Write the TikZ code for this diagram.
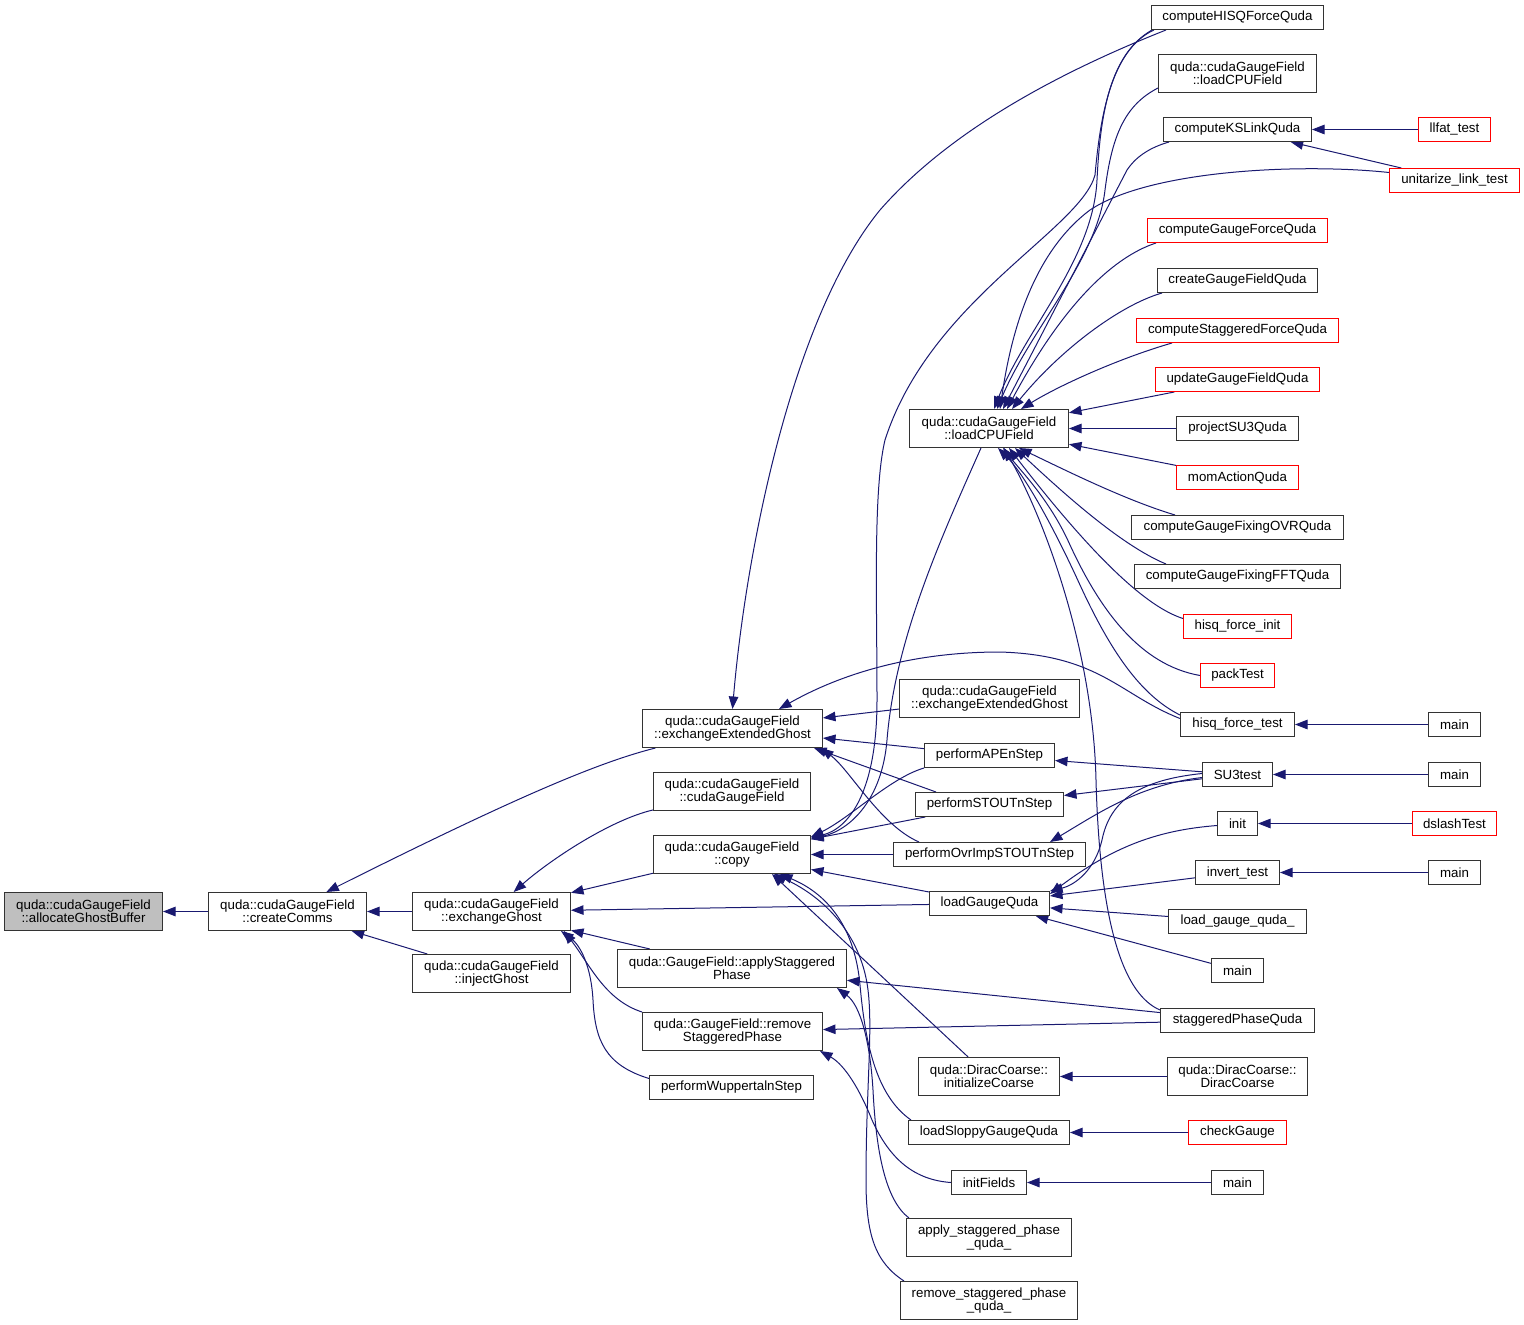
\documentclass[tikz,border=0pt]{standalone}
\usepackage{fontspec}
\setmainfont{Liberation Sans}
\usetikzlibrary{arrows.meta,calc}
\definecolor{mblue}{RGB}{25,25,112}
\definecolor{grayfill}{RGB}{191,191,191}
\pgfdeclarelayer{edges}
\pgfsetlayers{edges,main}
\tikzset{
  box/.style={draw=black!80, line width=1pt, fill=white, inner sep=0pt, minimum height=24pt,
              font=\fontsize{13.3}{13}\selectfont, align=center, text=black},
  tall/.style={minimum height=38pt},
  redbox/.style={box, draw=red},
  conn/.style={draw=mblue, line width=1pt, -{Triangle[length=12.5pt,width=9.5pt]}},
}
\begin{document}
\begin{tikzpicture}[x=1pt,y=-1pt]
\useasboundingbox (0,0) rectangle (1524,1325);
% column 0-2
\node[box,tall,fill=grayfill,minimum width=158pt] (agb) at (83.5,911.5) {quda::cudaGaugeField\\::allocateGhostBuffer};
\node[box,tall,minimum width=158pt] (cc) at (287.5,911.5) {quda::cudaGaugeField\\::createComms};
\node[box,tall,minimum width=158pt] (eg) at (491.5,911.5) {quda::cudaGaugeField\\::exchangeGhost};
\node[box,tall,minimum width=158pt] (ig) at (491.5,973.5) {quda::cudaGaugeField\\::injectGhost};
% column 3
\node[box,tall,minimum width=180pt] (eeA) at (732.5,728.5) {quda::cudaGaugeField\\::exchangeExtendedGhost};
\node[box,tall,minimum width=157pt] (ctor) at (732,791.5) {quda::cudaGaugeField\\::cudaGaugeField};
\node[box,tall,minimum width=157pt] (copy) at (732,854.5) {quda::cudaGaugeField\\::copy};
\node[box,tall,minimum width=229pt] (asp) at (732,968.5) {quda::GaugeField::applyStaggered\\Phase};
\node[box,tall,minimum width=180pt] (rsp) at (732.5,1031.5) {quda::GaugeField::remove\\StaggeredPhase};
\node[box,minimum width=164pt] (wup) at (731.5,1087.5) {performWuppertalnStep};
% column 4
\node[box,tall,minimum width=159pt] (lcf) at (989,428.5) {quda::cudaGaugeField\\::loadCPUField};
\node[box,tall,minimum width=180pt] (eeB) at (989.5,698.5) {quda::cudaGaugeField\\::exchangeExtendedGhost};
\node[box,minimum width=130pt] (ape) at (989.5,755.5) {performAPEnStep};
\node[box,minimum width=148pt] (stout) at (989.5,804.5) {performSTOUTnStep};
\node[box,minimum width=192pt] (ovr) at (989.5,854.5) {performOvrImpSTOUTnStep};
\node[box,minimum width=120pt] (lgq) at (989.5,903.5) {loadGaugeQuda};
\node[box,tall,minimum width=141pt] (ic) at (989,1076.5) {quda::DiracCoarse::\\initializeCoarse};
\node[box,minimum width=161pt] (lsg) at (989,1132.5) {loadSloppyGaugeQuda};
\node[box,minimum width=75pt] (inf) at (989,1182.5) {initFields};
\node[box,tall,minimum width=165pt] (aspq) at (989,1237.5) {apply\_staggered\_phase\\\_quda\_};
\node[box,tall,minimum width=177pt] (rspq) at (989,1300.5) {remove\_staggered\_phase\\\_quda\_};
% column 5
\node[box,minimum width=172pt] (hisq) at (1237.5,17.5) {computeHISQForceQuda};
\node[box,tall,minimum width=158pt] (lcf2) at (1237.5,73.5) {quda::cudaGaugeField\\::loadCPUField};
\node[box,minimum width=148pt] (ksl) at (1237.5,129.5) {computeKSLinkQuda};
\node[redbox,minimum width=180pt] (gfq) at (1237.5,230.5) {computeGaugeForceQuda};
\node[box,minimum width=160pt] (cgf) at (1237.5,280.5) {createGaugeFieldQuda};
\node[redbox,minimum width=202pt] (sfq) at (1237.5,330.5) {computeStaggeredForceQuda};
\node[redbox,minimum width=164pt] (ugf) at (1237.5,379.5) {updateGaugeFieldQuda};
\node[box,minimum width=122pt] (psu) at (1237.5,428.5) {projectSU3Quda};
\node[redbox,minimum width=122pt] (mom) at (1237.5,477.5) {momActionQuda};
\node[box,minimum width=212pt] (ovrq) at (1237.5,527.5) {computeGaugeFixingOVRQuda};
\node[box,minimum width=206pt] (fft) at (1237.5,576.5) {computeGaugeFixingFFTQuda};
\node[redbox,minimum width=108pt] (hfi) at (1237.5,626.5) {hisq\_force\_init};
\node[redbox,minimum width=74pt] (pack) at (1237.5,675.5) {packTest};
\node[box,minimum width=114pt] (hft) at (1237.5,724.5) {hisq\_force\_test};
\node[box,minimum width=70pt] (su3) at (1237.5,774.5) {SU3test};
\node[box,minimum width=40pt] (init) at (1237.5,823.5) {init};
\node[box,minimum width=84pt] (inv) at (1237.5,872.5) {invert\_test};
\node[box,minimum width=138pt] (lgqf) at (1237.5,921.5) {load\_gauge\_quda\_};
\node[box,minimum width=52pt] (main1) at (1237.5,970.5) {main};
\node[box,minimum width=154pt] (spq) at (1237.5,1020.5) {staggeredPhaseQuda};
\node[box,tall,minimum width=140pt] (dc) at (1237.5,1076.5) {quda::DiracCoarse::\\DiracCoarse};
\node[redbox,minimum width=98pt] (chk) at (1237.5,1132.5) {checkGauge};
\node[box,minimum width=52pt] (main2) at (1237.5,1182.5) {main};
% column 6
\node[redbox,minimum width=72pt] (llf) at (1454.5,129.5) {llfat\_test};
\node[redbox,minimum width=130pt] (unit) at (1454.5,180.5) {unitarize\_link\_test};
\node[box,minimum width=52pt] (main3) at (1454.5,724.5) {main};
\node[box,minimum width=52pt] (main4) at (1454.5,774.5) {main};
\node[redbox,minimum width=84pt] (dsl) at (1454.5,823.5) {dslashTest};
\node[box,minimum width=52pt] (main5) at (1454.5,872.5) {main};

\begin{pgfonlayer}{edges}
% left part
\draw[conn] (cc) -- (agb);
\draw[conn] (eg) -- (cc);
\draw[conn] (ig) -- (cc);
\draw[conn] (eeA) .. controls (600,762) and (520,795) .. (cc);
\draw[conn] (ctor) .. controls (610,820) and (550,860) .. (eg);
\draw[conn] (copy) -- (eg);
\draw[conn] (lgq) -- (eg);
\draw[conn] (asp) -- (eg);
\draw[conn] (rsp.north west) .. controls (605,1000) and (590,965) .. ([xshift=-7pt]eg.south east);
\draw[conn] ([yshift=9pt]wup.west) .. controls (605,1065) and (595,1040) .. (593,1000) .. controls (591,965) and (580,945) .. ([xshift=-10pt]eg.south east);
% exchangeExtendedGhost A
\draw[conn] ([xshift=15pt]hisq.south west) .. controls (1060,72) and (950,130) .. (880,210) .. controls (790,320) and (745,560) .. (eeA.north);
\draw[conn] (eeB) -- (eeA);
\draw[conn] (ape) -- (eeA);
\draw[conn] ([xshift=21pt]stout.north west) -- ([xshift=-9pt]eeA.south east);
\draw[conn] ([xshift=26pt]ovr.north west) .. controls (880,825) and (850,770) .. ([xshift=-2pt]eeA.south east);
\draw[conn] ([yshift=6pt]hft.west) .. controls (1120,695) and (1100,655) .. (1000,652) .. controls (900,652) and (830,680) .. ([xshift=-44pt]eeA.north east);
% copy
\draw[conn] ([xshift=3pt]hisq.south west) .. controls (1110,50) and (1100,120) .. (1095,175) .. controls (1080,230) and (930,300) .. (885,440) .. controls (873,490) and (877,600) .. (877,700) .. controls (877,790) and (850,828) .. ([yshift=-3pt]copy.north east);
\draw[conn] ([xshift=-8pt]lcf.south) .. controls (940,540) and (895,640) .. (887,740) .. controls (882,800) and (850,830) .. ([yshift=-4pt]copy.north east);
\draw[conn] (ape.south west) .. controls (890,778) and (850,818) .. ([yshift=-2pt]copy.north east);
\draw[conn] (stout) -- (copy);
\draw[conn] (ovr) -- (copy);
\draw[conn] (lgq) -- (copy);
\draw[conn] (ic) -- ([xshift=40pt]copy.south);
\draw[conn] ([xshift=3pt]lsg.north west) .. controls (875,1095) and (865,1040) .. (860,985) .. controls (855,930) and (830,895) .. ([xshift=48pt]copy.south);
\draw[conn] ([xshift=4pt]rspq.north west) .. controls (875,1262) and (866,1235) .. (866,1180) .. controls (866,1090) and (873,1030) .. (868,990) .. controls (862,940) and (830,900) .. ([xshift=42pt]copy.south);
% staggered phase
\draw[conn] ([xshift=3pt]aspq.north west) .. controls (885,1200) and (876,1150) .. (873,1090) .. controls (870,1040) and (860,1005) .. ([xshift=-10pt]asp.south east);
\draw[conn] (inf.west) .. controls (915,1180) and (890,1160) .. (872,1120) .. controls (860,1090) and (845,1065) .. ([xshift=-3pt]rsp.south east);
\draw[conn] (spq) -- (asp);
\draw[conn] (spq) -- (rsp);
\draw[conn] ([yshift=-2pt]spq.north west) .. controls (1125,995) and (1100,930) .. (1096,780) .. controls (1093,650) and (1045,520) .. ([xshift=15pt]lcf.south);
% loadGaugeQuda
\draw[conn] ([yshift=1pt]su3.west) .. controls (1140,780) and (1110,800) .. (1102,840) .. controls (1095,870) and (1075,885) .. (lgq.north east);
\draw[conn] ([yshift=-2pt]init.west) .. controls (1160,830) and (1115,845) .. ([yshift=-3pt]lgq.north east);
\draw[conn] (inv) -- (lgq);
\draw[conn] (lgqf) -- (lgq);
\draw[conn] (main1) -- (lgq);
% SU3test
\draw[conn] (su3) -- (ape);
\draw[conn] (su3) -- (stout);
\draw[conn] ([yshift=-3pt]su3.west) .. controls (1140,785) and (1100,812) .. ([xshift=-36pt]ovr.north east);
% loadCPUField (col 4)
\draw[conn] ([xshift=1pt]hisq.south west) .. controls (1108,55) and (1100,120) .. (1097,180) .. controls (1093,260) and (1025,330) .. ([xshift=5pt]lcf.north);
\draw[conn] ([yshift=-14.5pt]lcf2.west) .. controls (1125,105) and (1112,135) .. (1105,190) .. controls (1097,260) and (1030,330) .. ([xshift=8pt]lcf.north);
\draw[conn] ([xshift=6pt]ksl.south west) .. controls (1148,148) and (1135,158) .. (1127,170) -- ([xshift=14pt]lcf.north);
\draw[conn] ([yshift=8pt]unit.west) .. controls (1300,163) and (1150,170) .. (1090,210) .. controls (1030,255) and (1010,340) .. ([xshift=11pt]lcf.north);
\draw[conn] ([xshift=9pt]gfq.south west) .. controls (1110,258) and (1060,310) .. ([xshift=18pt]lcf.north);
\draw[conn] ([xshift=5pt]cgf.south west) .. controls (1120,305) and (1060,350) .. ([xshift=23pt]lcf.north);
\draw[conn] ([xshift=36pt]sfq.south west) .. controls (1120,358) and (1060,385) .. ([xshift=32pt]lcf.north);
\draw[conn] (ugf) -- (lcf);
\draw[conn] (psu) -- (lcf);
\draw[conn] (mom) -- (lcf);
\draw[conn] ([xshift=44pt]ovrq.north west) .. controls (1125,500) and (1065,470) .. ([xshift=30pt]lcf.south);
\draw[conn] ([xshift=32pt]fft.north west) .. controls (1120,545) and (1060,490) .. ([xshift=26pt]lcf.south);
\draw[conn] ([yshift=8pt]hfi.west) .. controls (1140,605) and (1080,540) .. ([xshift=20pt]lcf.south);
\draw[conn] (pack.west) .. controls (1140,665) and (1100,610) .. (1070,545) .. controls (1050,500) and (1020,470) .. ([xshift=14pt]lcf.south);
\draw[conn] ([yshift=-3pt]hft.north west) .. controls (1140,695) and (1110,650) .. (1080,585) .. controls (1055,530) and (1025,475) .. ([xshift=9pt]lcf.south);
% right side
\draw[conn] (llf) -- (ksl);
\draw[conn] (unit) -- (ksl);
\draw[conn] (main3) -- (hft);
\draw[conn] (main4) -- (su3);
\draw[conn] (dsl) -- (init);
\draw[conn] (main5) -- (inv);
\draw[conn] (dc) -- (ic);
\draw[conn] (chk) -- (lsg);
\draw[conn] (main2) -- (inf);
\end{pgfonlayer}
\end{tikzpicture}
\end{document}
